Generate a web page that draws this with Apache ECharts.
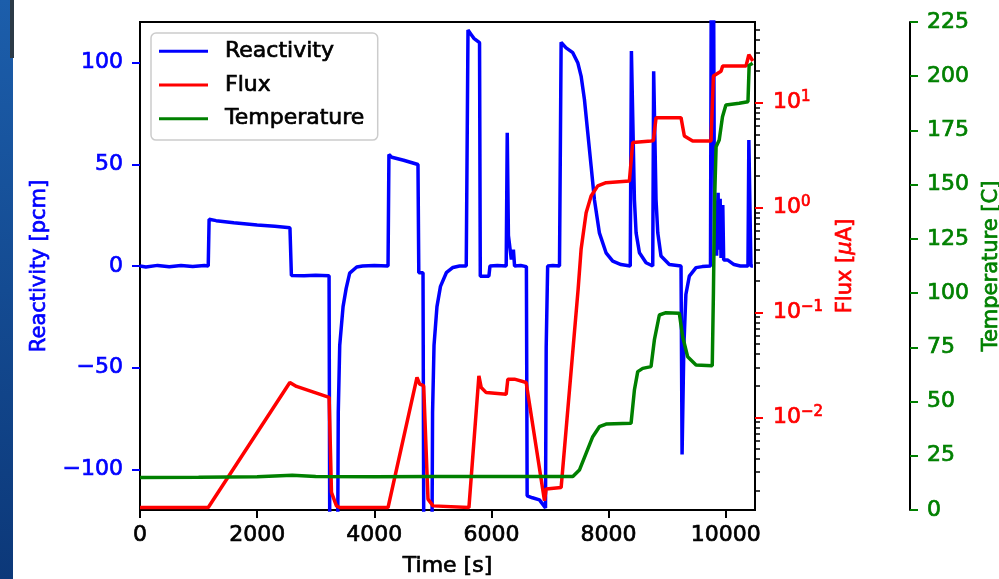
<!DOCTYPE html>
<html>
<head>
<meta charset="utf-8">
<script src="https://cdn.jsdelivr.net/npm/echarts@6/dist/echarts.min.js"></script>
<style>
html,body{margin:0;padding:0;background:#fff;}
#chart{width:999px;height:579px;}
</style>
</head>
<body>
<div id="chart"></div>
<script>
// ---- Data ----
const reactTime = [0,100,300,500,700,900,1100,1165,1180,1300,1600,2000,2300,2560,2585,2800,3000,3228,3240,3375,3385,3410,3467,3520,3580,3700,3800,4000,4235,4250,4300,4500,4746,4760,4832,4845,4985,4995,5020,5070,5130,5230,5343,5456,5570,5600,5650,5700,5797,5810,5957,5975,6100,6252,6270,6290,6340,6375,6395,6500,6597,6610,6700,6820,6923,6935,6960,7050,7162,7190,7275,7389,7474,7531,7588,7645,7702,7758,7843,7957,8071,8213,8370,8390,8441,8470,8527,8640,8754,8770,8810,8840,8895,9037,9237,9255,9285,9320,9379,9493,9600,9740,9755,9775,9790,9810,9830,9845,9870,9885,9905,9920,9950,9965,10030,10142,10250,10380,10395,10430,10465];
const reactValues = [0,-0.5,0.3,-0.4,0.2,-0.3,0.2,0,23,22.3,21.3,20.2,19.5,18.8,-4.7,-4.8,-4.6,-4.8,-135,-135,-72,-39,-20,-11,-3.5,-0.5,0,0.3,0,54.8,53.5,52,49.9,-3.3,-3.3,-135,-135,-72,-39,-20,-10,-3.3,-0.7,0,0,116,114,112,109.8,-5,-5,0,0.3,0,65.5,15,3.2,8,0,0.2,-0.3,-113,-114,-115,-119,-40,0,0.3,0,110,107.3,104.9,100,93.4,81.9,65.5,49.1,32.7,16.3,6.5,2.4,0.7,0,105.7,32.7,16.3,6.5,1.6,0,95.8,32.7,16.3,4.9,0.7,0,-92.7,-40,-14,-5,-0.8,-0.3,0,160,130,160,5,30,5,36,8,33,4,30,3,3,0.7,0,0,62,0,0];

const fluxTime = [0,1165,2558,2672,3229,3269,3354,3410,4235,4729,4775,4843,4917,5003,5616,5786,5826,5911,6252,6280,6394,6593,6906,6934,7190,7480,7531,7617,7702,7816,7957,8355,8384,8412,8725,8765,8811,9237,9294,9436,9749,9790,9920,9948,10347,10395,10463];
const fluxValues = [0.00138,0.00138,0.0215,0.0197,0.0155,0.00192,0.00143,0.00138,0.00138,0.024,0.0207,0.020,0.00166,0.00143,0.00138,0.0248,0.0192,0.0172,0.0166,0.0231,0.0231,0.0215,0.0016,0.00207,0.00214,0.166,0.40,0.895,1.29,1.61,1.73,1.79,1.82,4.17,4.32,4.37,7.21,7.21,4.82,4.32,4.32,18.0,20.0,22.4,22.4,28.8,25.0];

const tempTime = [0,1000,2000,2600,3000,4000,5000,6000,7000,7390,7502,7616,7730,7843,7957,8384,8441,8498,8583,8725,8782,8867,8981,9208,9265,9350,9493,9770,9790,9810,9836,9889,9945,10003,10230,10380,10400,10460];
const tempValues = [15,15.1,15.3,16,15.5,15.3,15.5,15.4,15.4,15.4,18.4,26.1,33.8,38.4,39.6,40,55.3,63.8,65.3,66.1,78.4,89.9,91,90.7,79.9,70.7,66.9,66.5,100,143,167.5,170.6,181.3,186.7,187.5,188.2,205,206];

const timeTicks = [0,2000,4000,6000,8000,10000];
const reactTicks = [-100,-50,0,50,100];
const fluxMajorTicks = [0.01,0.1,1,10];
const fluxMinorTicks = [0.002,0.003,0.004,0.005,0.006,0.007,0.008,0.009,0.02,0.03,0.04,0.05,0.06,0.07,0.08,0.09,0.2,0.3,0.4,0.5,0.6,0.7,0.8,0.9,2,3,4,5,6,7,8,9,20,30,40,50];

// ---- Build chart ----
const FONT = 'DejaVu Sans';
const BLUE = '#0000ff', RED = '#ff0000', GREEN = '#008000';
const SW = 0.7; // slight stroke to mimic the heavier look of the reference text
const pairs = (xs, ys) => xs.map((x, i) => [x, ys[i]]);
const minus = v => String(v).replace('-', '\u2212');
const supFmt = v => {
  const e = Math.round(Math.log10(v));
  return '{b|10}{s|' + (e < 0 ? '\u2212' + (-e) : e) + '}';
};
const txt = (color, size) => ({fontFamily: FONT, fontSize: size, color: color, textBorderColor: color, textBorderWidth: SW});

const chart = echarts.init(document.getElementById('chart'), null, {renderer: 'canvas'});
chart.setOption({
  animation: false,
  backgroundColor: '#ffffff',
  textStyle: {fontFamily: FONT},
  graphic: [
    {type: 'rect', z: 100, shape: {x: 0, y: 0, width: 13, height: 579},
     style: {fill: new echarts.graphic.LinearGradient(0, 0, 0, 1, [{offset: 0, color: '#1c5eab'}, {offset: 1, color: '#0c3879'}])}},
    {type: 'rect', z: 101, shape: {x: 10, y: 0, width: 4, height: 58}, style: {fill: '#2c3a47'}}
  ],
  grid: {left: 140, right: 244, top: 22, bottom: 69, show: true, borderColor: '#000', borderWidth: 2,
         backgroundColor: '#fff', containLabel: false, outerBoundsMode: 'none'},
  legend: {
    orient: 'vertical', left: 151, top: 33,
    icon: 'rect', itemWidth: 49, itemHeight: 3, itemGap: 11,
    padding: [7, 13, 10, 8],
    borderColor: '#cccccc', borderWidth: 1.5, borderRadius: 5, backgroundColor: '#fff',
    textStyle: Object.assign(txt('#000', 22), {lineHeight: 22, padding: [0, 0, 0, 12]}),
    data: ['Reactivity', 'Flux', 'Temperature']
  },
  xAxis: {
    type: 'value', min: 0, max: 10500,
    name: 'Time [s]', nameLocation: 'middle', nameGap: 45,
    nameTextStyle: Object.assign(txt('#000', 22), {lineHeight: 22}),
    axisLine: {show: true, onZero: false, lineStyle: {color: '#000', width: 2}},
    axisTick: {show: true, length: 8, lineStyle: {color: '#000', width: 2}, customValues: timeTicks},
    axisLabel: Object.assign(txt('#000', 22), {margin: 14, customValues: timeTicks, formatter: v => String(v)}),
    splitLine: {show: false}
  },
  yAxis: [
    {
      type: 'value', min: -120, max: 120, position: 'left',
      name: 'Reactivity [pcm]', nameLocation: 'middle', nameRotate: 90, nameGap: 89,
      nameTextStyle: Object.assign(txt(BLUE, 21), {lineHeight: 22}),
      axisLine: {show: true, onZero: false, lineStyle: {color: '#000', width: 2}},
      axisTick: {show: true, length: 8, lineStyle: {color: BLUE, width: 2}, customValues: reactTicks},
      axisLabel: Object.assign(txt(BLUE, 22), {margin: 17, customValues: reactTicks, formatter: minus}),
      splitLine: {show: false}
    },
    {
      type: 'log', logBase: 10, min: Math.pow(10, -2.884), max: Math.pow(10, 1.77), position: 'right',
      name: '{n|Flux [}{i|\u03bc}{n|A]}', nameLocation: 'middle', nameRotate: 90, nameGap: 80,
      nameTextStyle: {lineHeight: 22, rich: {
        n: txt(RED, 21),
        i: Object.assign(txt(RED, 21), {fontStyle: 'italic'})
      }},
      axisLine: {show: true, onZero: false, lineStyle: {color: '#000', width: 2}},
      axisTick: {show: true, length: 8, lineStyle: {color: RED, width: 2}, customValues: fluxMajorTicks},
      axisLabel: {margin: 18, customValues: fluxMajorTicks, formatter: supFmt, rich: {
        b: txt(RED, 22),
        s: Object.assign(txt(RED, 15), {verticalAlign: 'top', padding: [0, 0, 11, 0]})
      }},
      splitLine: {show: false}
    },
    {
      type: 'log', logBase: 10, min: Math.pow(10, -2.884), max: Math.pow(10, 1.77), position: 'right',
      axisLine: {show: false, onZero: false},
      axisTick: {show: true, length: 5, lineStyle: {color: '#000', width: 1.5}, customValues: fluxMinorTicks},
      axisLabel: {show: false},
      splitLine: {show: false}
    },
    {
      type: 'value', min: 0, max: 225, interval: 25, position: 'right', offset: 155,
      name: 'Temperature [C]', nameLocation: 'middle', nameRotate: 90, nameGap: 67,
      nameTextStyle: Object.assign(txt(GREEN, 21), {lineHeight: 22}),
      axisLine: {show: true, onZero: false, lineStyle: {color: '#000', width: 2}},
      axisTick: {show: true, length: 8, lineStyle: {color: GREEN, width: 2}},
      axisLabel: Object.assign(txt(GREEN, 22), {margin: 17}),
      splitLine: {show: false}
    }
  ],
  series: [
    {name: 'Reactivity', type: 'line', yAxisIndex: 0, data: pairs(reactTime, reactValues),
     showSymbol: false, symbol: 'none', clip: true, color: BLUE, lineStyle: {color: BLUE, width: 3.5}, z: 2},
    {name: 'Flux', type: 'line', yAxisIndex: 1, data: pairs(fluxTime, fluxValues),
     showSymbol: false, symbol: 'none', clip: true, color: RED, lineStyle: {color: RED, width: 3.5}, z: 3},
    {name: 'Temperature', type: 'line', yAxisIndex: 3, data: pairs(tempTime, tempValues),
     showSymbol: false, symbol: 'none', clip: true, color: GREEN, lineStyle: {color: GREEN, width: 3.5}, z: 4}
  ]
});
</script>
</body>
</html>
